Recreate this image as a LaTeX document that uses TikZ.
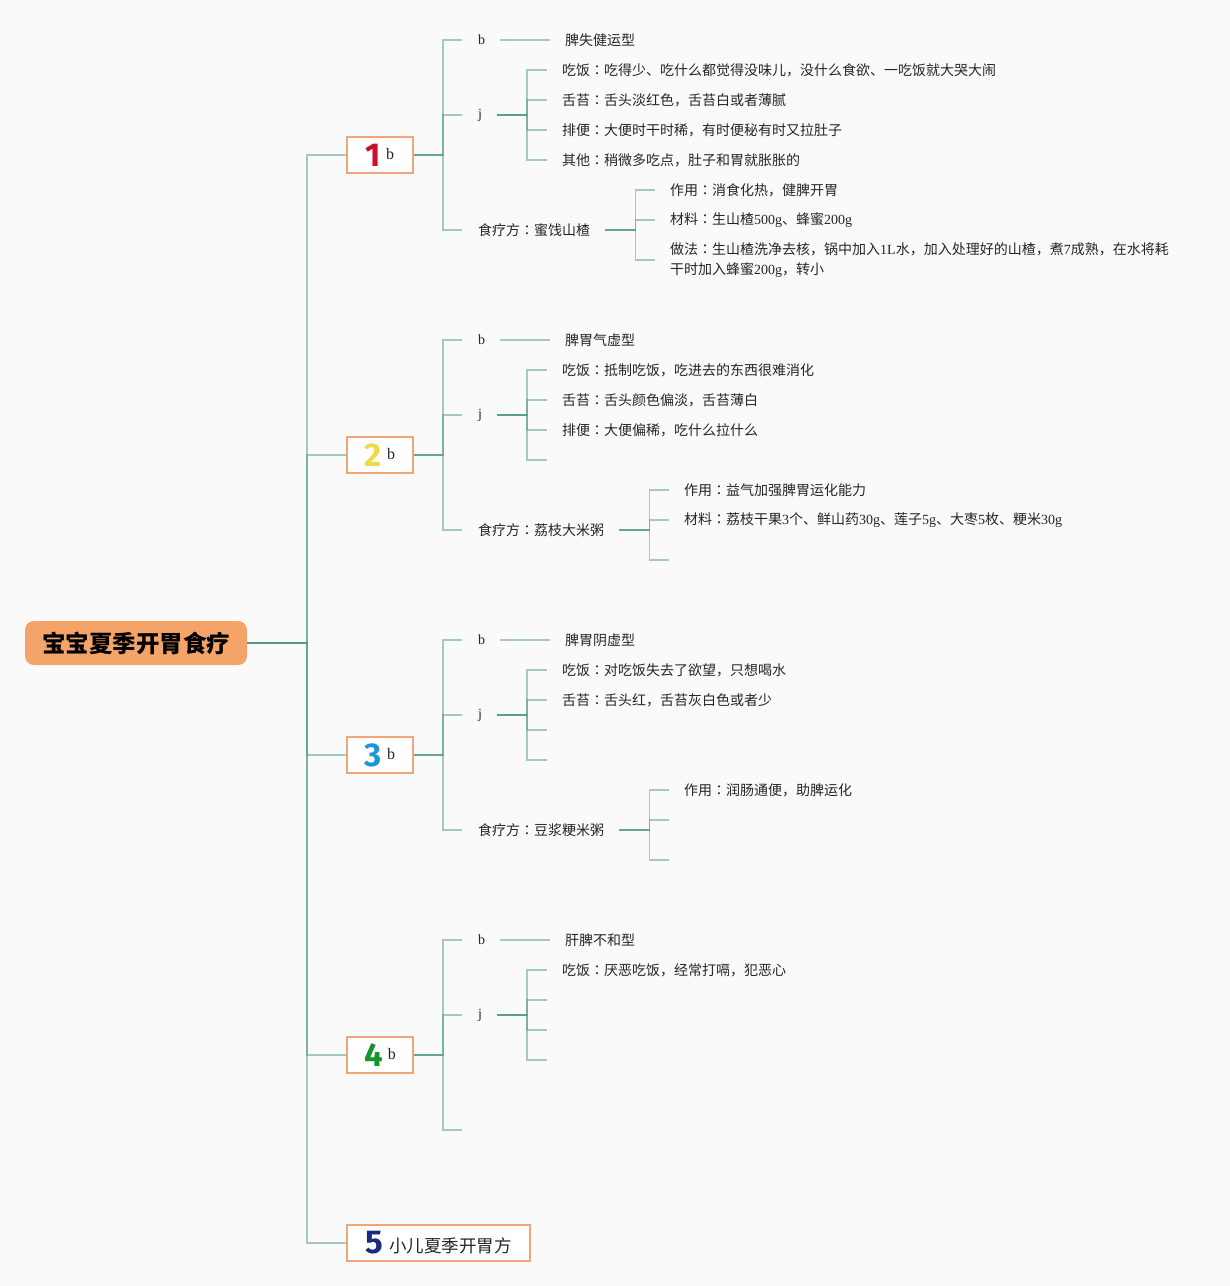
\documentclass[tikz,border=0pt]{standalone}
\usepackage{fontspec}
\setmainfont{Noto Sans CJK SC}
\newfontfamily\jpf{Noto Sans CJK JP}
\newfontfamily\lat{Liberation Serif}
\newfontfamily\numf{Fira Sans}
\newcommand\ltn[1]{{\lat #1}}
\newcommand\col{{\jpf ：}}
\definecolor{bgc}{HTML}{FAFAFA}
\definecolor{rootc}{HTML}{F4A468}
\definecolor{boxc}{HTML}{F0A676}
\definecolor{linec}{HTML}{509B82}
\definecolor{txtc}{HTML}{262626}
\definecolor{n1c}{HTML}{C8102E}
\definecolor{n2c}{HTML}{F0D848}
\definecolor{n3c}{HTML}{1B96DB}
\definecolor{n4c}{HTML}{12962A}
\definecolor{n5c}{HTML}{1B2A7C}
\newcommand\numlabel[2]{{\numf\bfseries\fontsize{33}{33}\selectfont\color{#1}#2}\hspace{5pt}\raisebox{7pt}{\lat\fontsize{16}{16}\selectfont b}}
\begin{document}
\begin{tikzpicture}[x=1pt,y=-1pt,
  txt/.style={anchor=west, inner sep=0pt, font=\fontsize{14}{20}\selectfont, text=txtc},
  rootbox/.style={fill=rootc, rounded corners=9pt, minimum width=222pt, minimum height=44pt, inner sep=0pt, font=\fontsize{23.5}{24}\selectfont\bfseries, text=black},
  numbox/.style={draw=boxc, line width=1.5pt, fill=white, minimum width=66pt, minimum height=36pt, inner sep=0pt, text=txtc},
  conn/.style={draw=linec, draw opacity=0.5, line width=1.6pt}]
\useasboundingbox (0,0) rectangle (1230,1286);
\fill[bgc] (0,0) rectangle (1230,1286);

% root and main boxes
\node[rootbox] (R) at (136,643) {宝宝夏季开胃食疗};
\node[numbox] (B1) at (380,155) {\numlabel{n1c}{1}};
\node[numbox] (B2) at (380,455) {\numlabel{n2c}{2}};
\node[numbox] (B3) at (380,755) {\numlabel{n3c}{3}};
\node[numbox] (B4) at (380,1055) {\numlabel{n4c}{4}};
\node[numbox, minimum width=183pt] (B5) at (438.5,1243) {{\numf\bfseries\fontsize{33}{33}\selectfont\color{n5c}5}\hspace{6pt}\raisebox{1pt}{\fontsize{17.5}{18}\selectfont 小儿夏季开胃方}};

% branch 1
\node[txt] (b1) at (478,40) {\ltn{b}};
\node[txt] (t1) at (565,40) {脾失健运型};
\node[txt] (j1) at (478,115) {\ltn{j}};
\node[txt] (j1a) at (562,70) {吃饭\col 吃得少、吃什么都觉得没味儿，没什么食欲、一吃饭就大哭大闹};
\node[txt] (j1b) at (562,100) {舌苔\col 舌头淡红色，舌苔白或者薄腻};
\node[txt] (j1c) at (562,130) {排便\col 大便时干时稀，有时便秘有时又拉肚子};
\node[txt] (j1d) at (562,160) {其他\col 稍微多吃点，肚子和胃就胀胀的};
\node[txt] (f1) at (478,230) {食疗方\col 蜜饯山楂};
\node[txt] (f1a) at (670,190) {作用\col 消食化热，健脾开胃};
\node[txt] (f1b) at (670,220) {材料\col 生山楂\ltn{500g}、蜂蜜\ltn{200g}};
\node[txt, align=left] (f1c) at (670,260) {做法\col 生山楂洗净去核，锅中加入\ltn{1L}水，加入处理好的山楂，煮\ltn{7}成熟，在水将耗\\干时加入蜂蜜\ltn{200g}，转小};

% branch 2
\node[txt] (b2) at (478,340) {\ltn{b}};
\node[txt] (t2) at (565,340) {脾胃气虚型};
\node[txt] (j2) at (478,415) {\ltn{j}};
\node[txt] (j2a) at (562,370) {吃饭\col 抵制吃饭，吃进去的东西很难消化};
\node[txt] (j2b) at (562,400) {舌苔\col 舌头颜色偏淡，舌苔薄白};
\node[txt] (j2c) at (562,430) {排便\col 大便偏稀，吃什么拉什么};
\coordinate (j2d) at (547,460);
\node[txt] (f2) at (478,530) {食疗方\col 荔枝大米粥};
\node[txt] (f2a) at (684,490) {作用\col 益气加强脾胃运化能力};
\node[txt] (f2b) at (684,520) {材料\col 荔枝干果\ltn{3}个、鲜山药\ltn{30g}、莲子\ltn{5g}、大枣\ltn{5}枚、粳米\ltn{30g}};
\coordinate (f2c) at (669,560);

% branch 3
\node[txt] (b3) at (478,640) {\ltn{b}};
\node[txt] (t3) at (565,640) {脾胃阴虚型};
\node[txt] (j3) at (478,715) {\ltn{j}};
\node[txt] (j3a) at (562,670) {吃饭\col 对吃饭失去了欲望，只想喝水};
\node[txt] (j3b) at (562,700) {舌苔\col 舌头红，舌苔灰白色或者少};
\coordinate (j3c) at (547,730);
\coordinate (j3d) at (547,760);
\node[txt] (f3) at (478,830) {食疗方\col 豆浆粳米粥};
\node[txt] (f3a) at (684,790) {作用\col 润肠通便，助脾运化};
\coordinate (f3b) at (669,820);
\coordinate (f3c) at (669,860);

% branch 4
\node[txt] (b4) at (478,940) {\ltn{b}};
\node[txt] (t4) at (565,940) {肝脾不和型};
\node[txt] (j4) at (478,1015) {\ltn{j}};
\node[txt] (j4a) at (562,970) {吃饭\col 厌恶吃饭，经常打嗝，犯恶心};
\coordinate (j4b) at (547,1000);
\coordinate (j4c) at (547,1030);
\coordinate (j4d) at (547,1060);
\coordinate (e4) at (462,1130);

% root connectors
\foreach \B in {B1,B2,B3,B4,B5}
  \draw[conn] (R.east) -- ++(60,0) |- (\B.west);

% box connectors
\foreach \k in {1,2,3}{
  \draw[conn] (B\k.east) -- ++(29,0) |- ([xshift=-16pt]b\k.west);
  \draw[conn] (B\k.east) -- ++(29,0) |- ([xshift=-16pt]j\k.west);
  \draw[conn] (B\k.east) -- ++(29,0) |- ([xshift=-16pt]f\k.west);
  \draw[conn] ([xshift=15pt]b\k.east) -- ([xshift=-15pt]t\k.west);
}
\draw[conn] (B4.east) -- ++(29,0) |- ([xshift=-16pt]b4.west);
\draw[conn] (B4.east) -- ++(29,0) |- ([xshift=-16pt]j4.west);
\draw[conn] (B4.east) -- ++(29,0) |- (e4);
\draw[conn] ([xshift=15pt]b4.east) -- ([xshift=-15pt]t4.west);

% j children
\foreach \c in {j1a,j1b,j1c,j1d}
  \draw[conn] ([xshift=15pt]j1.east) -- ++(30,0) |- ([xshift=-15pt]\c.west);
\foreach \c in {j2a,j2b,j2c}
  \draw[conn] ([xshift=15pt]j2.east) -- ++(30,0) |- ([xshift=-15pt]\c.west);
\draw[conn] ([xshift=15pt]j2.east) -- ++(30,0) |- (j2d);
\foreach \c in {j3a,j3b}
  \draw[conn] ([xshift=15pt]j3.east) -- ++(30,0) |- ([xshift=-15pt]\c.west);
\foreach \c in {j3c,j3d}
  \draw[conn] ([xshift=15pt]j3.east) -- ++(30,0) |- (\c);
\draw[conn] ([xshift=15pt]j4.east) -- ++(30,0) |- ([xshift=-15pt]j4a.west);
\foreach \c in {j4b,j4c,j4d}
  \draw[conn] ([xshift=15pt]j4.east) -- ++(30,0) |- (\c);

% food children
\foreach \c in {f1a,f1b,f1c}
  \draw[conn] ([xshift=15pt]f1.east) -- ++(30,0) |- ([xshift=-15pt]\c.west);
\foreach \c in {f2a,f2b}
  \draw[conn] ([xshift=15pt]f2.east) -- ++(30,0) |- ([xshift=-15pt]\c.west);
\draw[conn] ([xshift=15pt]f2.east) -- ++(30,0) |- (f2c);
\draw[conn] ([xshift=15pt]f3.east) -- ++(30,0) |- ([xshift=-15pt]f3a.west);
\foreach \c in {f3b,f3c}
  \draw[conn] ([xshift=15pt]f3.east) -- ++(30,0) |- (\c);
\end{tikzpicture}
\end{document}
